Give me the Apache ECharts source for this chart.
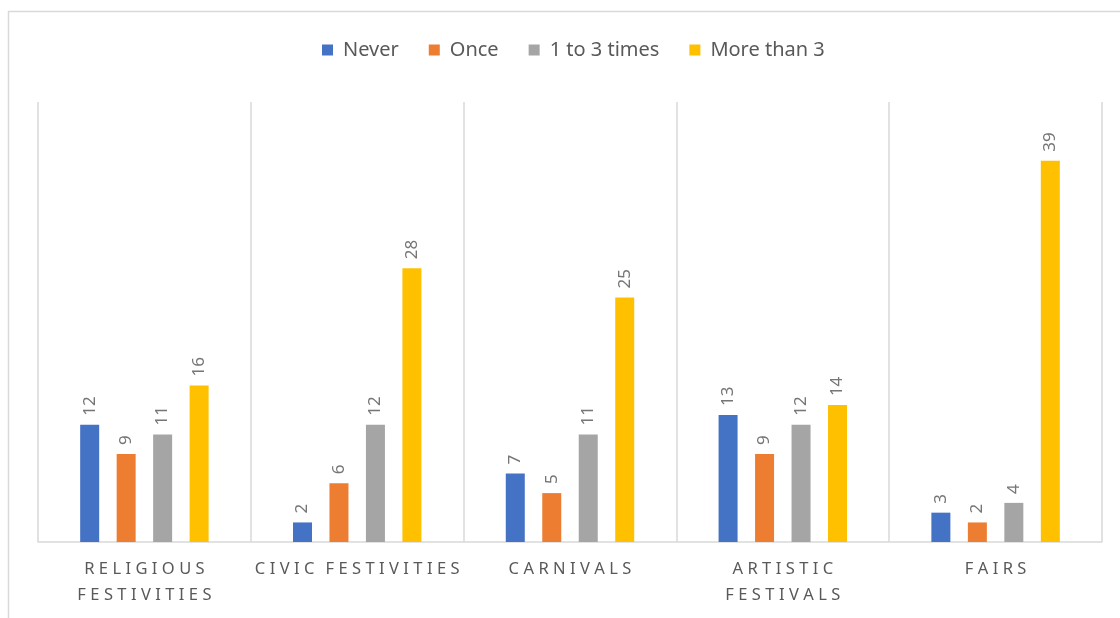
<!DOCTYPE html>
<html>
<head>
<meta charset="utf-8">
<script src="https://cdn.jsdelivr.net/npm/echarts@6/dist/echarts.min.js"></script>
<style>html,body{margin:0;padding:0;background:#fff}#c{width:1120px;height:618px}</style>
</head>
<body>
<div id="c"></div>
<script>
const categories = ['RELIGIOUS\nFESTIVITIES', 'CIVIC FESTIVITIES', 'CARNIVALS', 'ARTISTIC\nFESTIVALS', 'FAIRS'];
const seriesNames = ['Never', 'Once', '1 to 3 times', 'More than 3'];
const never = [12, 2, 7, 13, 3];
const once = [9, 6, 5, 9, 2];
const oneToThree = [11, 12, 11, 12, 4];
const moreThan3 = [16, 28, 25, 14, 39];
const colors = ['#4472C4', '#ED7D31', '#A5A5A5', '#FFC000'];
const values = [never, once, oneToThree, moreThan3];

const font = 'Noto Sans';
const chart = echarts.init(document.getElementById('c'), null, {renderer: 'canvas'});
function spaced(s) {
  return s.split('\n').map(line =>
    line.split(' ').map(w => w.split('').join('\u2006\u200A')).join('\u2002\u2006')
  ).join('\n');
}
chart.setOption({
  animation: false,
  color: colors,
  graphic: [{
    type: 'rect', silent: true,
    shape: {x: 8.5, y: 11.5, width: 1200, height: 700},
    style: {fill: 'none', stroke: '#d9d9d9', lineWidth: 1.5}
  }],
  legend: {
    top: 35, left: 317,
    icon: 'rect', itemWidth: 11, itemHeight: 11, itemGap: 30,
    textStyle: {fontFamily: font, fontSize: 20, color: '#595959', padding: [0, 0, 0, 5]},
    data: seriesNames
  },
  grid: {left: 38, right: 18, top: 102, bottom: 76, containLabel: false},
  xAxis: {
    type: 'category',
    data: categories,
    axisLine: {lineStyle: {color: '#d9d9d9', width: 1.5}},
    axisTick: {show: false},
    splitLine: {show: true, lineStyle: {color: '#d9d9d9', width: 1.5}},
    axisLabel: {
      interval: 0, margin: 14,
      fontFamily: font, fontSize: 16.5, color: '#595959', lineHeight: 26,
      formatter: v => spaced(v)
    }
  },
  yAxis: {type: 'value', min: 0, max: 45, show: false, splitLine: {show: false}},
  series: values.map((d, i) => ({
    name: seriesNames[i],
    type: 'bar',
    data: d,
    barWidth: 19,
    barGap: '92%',
    barCategoryGap: '40%',
    label: {
      show: true, position: 'top', rotate: 90, distance: 9,
      align: 'left', verticalAlign: 'middle',
      fontFamily: font, fontSize: 17, color: '#767676'
    }
  }))
});
</script>
</body>
</html>
